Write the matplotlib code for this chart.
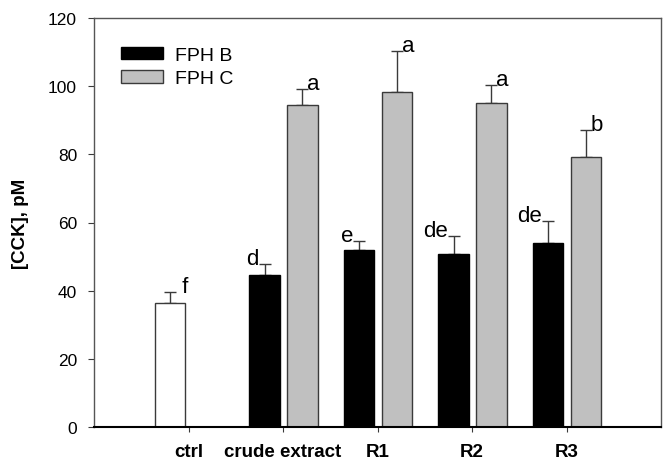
import numpy as np
import matplotlib
matplotlib.use('Agg')
import matplotlib.pyplot as plt

plt.rcParams['font.family'] = ['Liberation Sans', 'DejaVu Sans']

# data
categories = ['ctrl', 'crude extract', 'R1', 'R2', 'R3']
ctrl_value = 36.4
ctrl_err = 3.2
fph_b = [44.7, 52.0, 50.8, 53.9]
fph_b_err = [3.1, 2.7, 5.2, 6.5]
fph_c = [94.6, 98.4, 95.0, 79.3]
fph_c_err = [4.6, 11.8, 5.4, 7.9]
ctrl_letter = ' f'
fph_b_letters = ['d', 'e', 'de', 'de']
fph_c_letters = ['a', 'a', 'a', 'b']

edge = '#3a3a3a'
gray = '#c0c0c0'
width = 0.325
off_b = -0.195
off_c = 0.205
cap = 4.2

fig = plt.figure(figsize=(6.69, 4.64), dpi=100)
ax = fig.add_axes([94 / 669, 36 / 464, 567 / 669, 409 / 464])

x = np.arange(len(categories))
xb = x[1:] + off_b
xc = x[1:] + off_c

# control bar (white)
ax.bar(x[0] + off_b, ctrl_value, width, color='white', edgecolor=edge, linewidth=1, zorder=2)
ax.errorbar(x[0] + off_b, ctrl_value, yerr=[[0], [ctrl_err]], fmt='none',
            ecolor=edge, elinewidth=1, capsize=cap, capthick=1, zorder=1)

ax.bar(xb, fph_b, width, color='black', edgecolor='black', linewidth=1, label='FPH B', zorder=2)
ax.bar(xc, fph_c, width, color=gray, edgecolor=edge, linewidth=1, label='FPH C', zorder=2)
ax.errorbar(xb, fph_b, yerr=[np.zeros(4), fph_b_err], fmt='none',
            ecolor=edge, elinewidth=1, capsize=cap, capthick=1, zorder=1)
ax.errorbar(xc, fph_c, yerr=[np.zeros(4), fph_c_err], fmt='none',
            ecolor=edge, elinewidth=1, capsize=cap, capthick=1, zorder=1)

# significance letters next to the error bar caps
lt_size = 16
ax.annotate(ctrl_letter, (x[0] + off_b, ctrl_value + ctrl_err), xytext=(cap, 0),
            textcoords='offset points', ha='left', va='baseline', fontsize=lt_size)
for xi, v, e, t in zip(xb, fph_b, fph_b_err, fph_b_letters):
    ax.annotate(t, (xi, v + e), xytext=(-cap, 0), textcoords='offset points',
                ha='right', va='baseline', fontsize=lt_size)
for xi, v, e, t in zip(xc, fph_c, fph_c_err, fph_c_letters):
    ax.annotate(t, (xi, v + e), xytext=(cap - 0.8, 0), textcoords='offset points',
                ha='left', va='baseline', fontsize=lt_size)

ax.set_xlim(-1, 5)
ax.set_ylim(0, 120)
ax.set_yticks(np.arange(0, 121, 20))
ax.set_xticks(x)
ax.set_xticklabels(categories, fontsize=13.5, fontweight='bold')
ax.tick_params(axis='y', labelsize=12.5, length=4.2, pad=8, color=edge)
ax.tick_params(axis='x', length=3.6, pad=8, color=edge)
ax.set_ylabel('[CCK], pM', fontsize=13.5, fontweight='bold', labelpad=14)

for s in ['top', 'right', 'left']:
    ax.spines[s].set_color('#555555')
    ax.spines[s].set_linewidth(1)
ax.spines['bottom'].set_color('black')
ax.spines['bottom'].set_linewidth(1.5)

ax.legend(loc='upper left', bbox_to_anchor=(0.047, 0.930), frameon=False,
          fontsize=14, handlelength=2.2, handleheight=0.62, handletextpad=0.6,
          labelspacing=0.32, borderpad=0, borderaxespad=0)

fig.savefig('out.png', dpi=100)
